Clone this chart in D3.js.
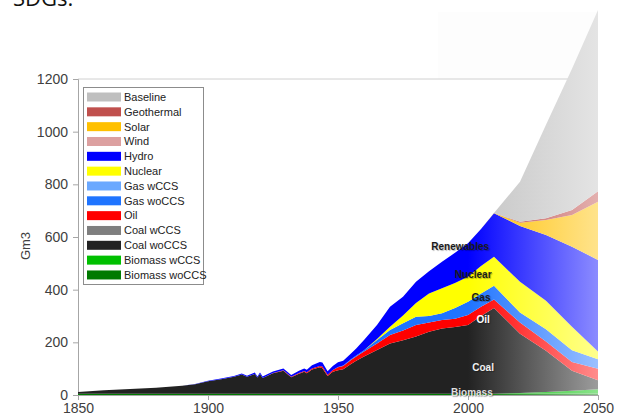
<!DOCTYPE html>
<html>
<head>
<meta charset="utf-8">
<script src="https://cdn.jsdelivr.net/npm/d3@7"></script>
<style>
  body { margin: 0; background: #fff; }
  svg { display: block; font-family: "Liberation Sans", Arial, sans-serif; }
  .tick text { fill: #404040; font-size: 14px; }
  .tick line, .domain { stroke: #a6a6a6; }
</style>
</head>
<body>
<div id="chart"></div>
<script>
// years of the series (history up to 2010, scenario after)
const years = [1850, 1860, 1870, 1880, 1890, 1895, 1900, 1905, 1910, 1913, 1915, 1918, 1919, 1920, 1921,
  1925, 1929, 1932, 1935, 1937, 1938, 1940, 1943, 1944, 1946, 1948, 1950, 1952, 1955, 1957,
  1960, 1965, 1970, 1975, 1980, 1985, 1990, 1995, 2000, 2005, 2010, 2020, 2030, 2040, 2050];

const biomassWo = [5, 5, 5, 5, 5, 5, 5, 5, 5, 5, 5, 5, 5, 5, 5,
  5, 5, 5, 5, 5, 5, 5, 5, 5, 5, 5, 5, 5, 5, 5,
  5, 5, 5, 5, 5, 5, 5, 5, 5, 5, 5, 6, 6, 6, 6];
const biomassW = [0, 0, 0, 0, 0, 0, 0, 0, 0, 0, 0, 0, 0, 0, 0,
  0, 0, 0, 0, 0, 0, 0, 0, 0, 0, 0, 0, 0, 0, 0,
  0, 0, 0, 0, 0, 0, 0, 0, 0, 0, 0, 2, 5, 10, 16];
const coalWo = [6, 13, 18, 23, 30, 36, 47, 55, 64, 73, 64, 75, 61, 75, 60,
  78, 87, 62, 76, 83, 78, 92, 100, 97, 67, 83, 89, 93, 113, 125,
  141, 166, 191, 203, 217, 235, 248, 253, 261, 295, 325, 225, 157, 76, 34];
const coalW = years.map(() => 0);
const oil = [0, 0, 0, 0, 0, 0, 0, 0, 0, 0, 0, 0, 0, 0, 0,
  1, 2, 2, 3, 3, 3, 4, 5, 6, 5, 7, 11, 12, 15, 16,
  19, 25, 32, 37, 44, 35, 32, 32, 38, 35, 33, 42, 35, 33, 44];
const gasWo = [0, 0, 0, 0, 0, 0, 0, 0, 0, 0, 0, 0, 0, 0, 0,
  0, 0, 0, 0, 0, 0, 0, 0, 0, 0, 0, 1, 2, 3, 4,
  5, 13, 19, 27, 31, 25, 25, 40, 50, 50, 52, 38, 47, 45, 36];
const gasW = years.map(() => 0);
const nuclear = [0, 0, 0, 0, 0, 0, 0, 0, 0, 0, 0, 0, 0, 0, 0,
  0, 0, 0, 0, 0, 0, 0, 0, 0, 0, 0, 0, 0, 0, 0,
  0, 4, 12, 30, 52, 85, 95, 95, 95, 105, 110, 117, 108, 89, 29];
const hydro = [0, 0, 0, 0, 0, 1, 2, 3, 3, 4, 4, 5, 4, 5, 5,
  5, 7, 7, 8, 10, 10, 12, 15, 15, 13, 15, 18, 18, 22, 27,
  39, 53, 76, 71, 81, 85, 101, 115, 127, 140, 165, 212, 250, 304, 348];
const wind = years.map(() => 0);
const solar = years.map(y => ({2010: 1, 2020: 12, 2030: 57, 2040: 121, 2050: 221}[y] || 0));
const geothermal = years.map(y => ({2020: 4, 2030: 6, 2040: 19, 2050: 40}[y] || 0));
const baseline = years.map(y => ({2020: 152, 2030: 355, 2040: 536, 2050: 688}[y] || 0));

// stacking order, bottom to top
const seriesNames = ["Biomass woCCS", "Biomass wCCS", "Coal woCCS", "Coal wCCS", "Oil", "Gas woCCS",
  "Gas wCCS", "Nuclear", "Hydro", "Wind", "Solar", "Geothermal", "Baseline"];
const seriesValues = [biomassWo, biomassW, coalWo, coalW, oil, gasWo, gasW, nuclear, hydro, wind, solar, geothermal, baseline];
const seriesColors = ["#007a00", "#00c000", "#222222", "#7f7f7f", "#ff0000", "#1f74ff",
  "#6aa8ff", "#ffff00", "#0000ff", "#dca0a0", "#ffc000", "#c0504d", "#c4c4c4"];

const yTicks = [0, 200, 400, 600, 800, 1000, 1200];
const xTicks = [1850, 1900, 1950, 2000, 2050];

// text labels written on the areas: [text, year, value, colour]
const areaLabels = [
  ["Renewables", 1997, 563, "#1a1a1a"],
  ["Nuclear", 2002, 456, "#1a1a1a"],
  ["Gas", 2005, 372, "#1a1a1a"],
  ["Oil", 2005.8, 285, "#ffffff"],
  ["Coal", 2005.8, 106, "#f0f0f0"],
  ["Biomass", 2001.5, 11, "#e0e0e0"]
];

function drawChart() {
  const width = 619, height = 416;

  const svg = d3.select('#chart')
    .append('svg')
    .attr('width', width)
    .attr('height', height);

  const x = d3.scaleLinear().domain([1850, 2050]).range([78, 598]);
  const y = d3.scaleLinear().domain([0, 1200]).range([395, 79]);

  // cut-off heading above the chart
  svg.append('text')
    .attr('x', 13)
    .attr('y', 5.5)
    .style('font-family', '"Open Sans", sans-serif')
    .style('font-size', '22px')
    .attr('fill', '#111')
    .text('SDGs.');

  // faint remains of the image background above the plot
  svg.append('rect')
    .attr('x', 438).attr('y', 12)
    .attr('width', x(2050) - 438).attr('height', y(1200) - 12)
    .attr('fill', '#fdfdfd');

  // top border of the plot area
  svg.append('line')
    .attr('x1', x(1850)).attr('x2', x(2050))
    .attr('y1', y(1200)).attr('y2', y(1200))
    .attr('stroke', '#d0d0d0');

  // rows for the stack
  const rows = years.map((yr, i) => {
    const row = { year: yr };
    seriesNames.forEach((name, k) => { row[name] = seriesValues[k][i]; });
    return row;
  });

  const stack = d3.stack().keys(seriesNames);
  const layers = stack(rows);

  // horizontal fade for the scenario years
  const defs = svg.append('defs');
  seriesNames.forEach((name, k) => {
    const grad = defs.append('linearGradient')
      .attr('id', 'grad' + k)
      .attr('gradientUnits', 'userSpaceOnUse')
      .attr('x1', x(2000)).attr('x2', x(2050))
      .attr('y1', 0).attr('y2', 0);
    grad.append('stop').attr('offset', 0).attr('stop-color', seriesColors[k]);
    grad.append('stop').attr('offset', 1)
      .attr('stop-color', d3.interpolateRgb(seriesColors[k], '#ffffff')(0.55));
  });

  // axes
  svg.append('g')
    .attr('transform', `translate(${x(1850)},0)`)
    .call(d3.axisLeft(y).tickValues(yTicks).tickSize(5).tickPadding(5).tickFormat(d3.format('d')));

  svg.append('g')
    .attr('transform', `translate(0,${y(0)})`)
    .call(d3.axisBottom(x).tickValues(xTicks).tickSize(5).tickPadding(3).tickFormat(d3.format('d')));

  // stacked areas
  const area = d3.area()
    .x(d => x(d.data.year))
    .y0(d => y(d[0]))
    .y1(d => y(d[1]));

  svg.append('g')
    .selectAll('path')
    .data(layers)
    .enter()
    .append('path')
    .attr('fill', (d, k) => `url(#grad${k})`)
    .attr('d', area);

  // labels on the areas
  svg.append('g')
    .selectAll('text')
    .data(areaLabels)
    .enter()
    .append('text')
    .attr('x', d => x(d[1]))
    .attr('y', d => y(d[2]))
    .attr('dy', '0.35em')
    .attr('text-anchor', 'middle')
    .attr('fill', d => d[3])
    .style('font-size', '10px')
    .style('font-weight', 'bold')
    .style('text-shadow', '1px 1px 1px rgba(0,0,0,0.3)')
    .text(d => d[0]);

  // y axis title
  svg.append('text')
    .attr('transform', 'translate(30,246) rotate(-90)')
    .attr('text-anchor', 'middle')
    .attr('fill', '#404040')
    .style('font-size', '13px')
    .text('Gm3');

  // legend, listed top to bottom
  const legendNames = seriesNames.slice().reverse();
  const legendColors = seriesColors.slice().reverse();
  legendColors[0] = '#bfbfbf';

  const legend = svg.append('g');
  legend.append('rect')
    .attr('x', 83.5).attr('y', 87.5)
    .attr('width', 120).attr('height', 197)
    .attr('fill', '#fff')
    .attr('stroke', '#8c8c8c');

  const items = legend.selectAll('.item')
    .data(legendNames)
    .enter()
    .append('g')
    .attr('class', 'item')
    .attr('transform', (d, i) => `translate(87,${97 + i * 14.83})`);

  items.append('rect')
    .attr('x', 0).attr('y', -4.5)
    .attr('width', 34).attr('height', 9)
    .attr('fill', (d, i) => legendColors[i]);

  items.append('text')
    .attr('x', 37)
    .attr('dy', '0.35em')
    .attr('fill', '#222')
    .style('font-size', '11px')
    .text(d => d);
}

document.addEventListener('DOMContentLoaded', drawChart);
</script>
</body>
</html>
